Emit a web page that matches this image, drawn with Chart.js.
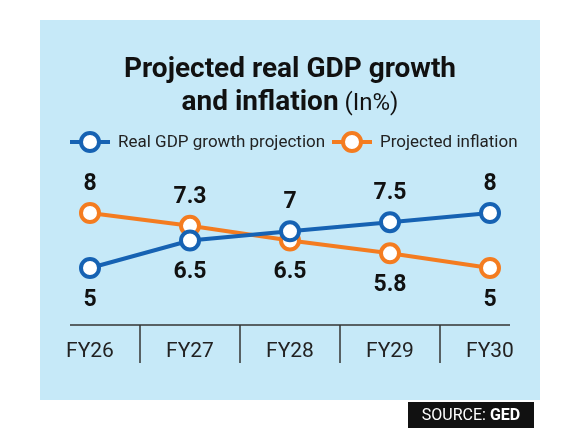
<!DOCTYPE html>
<html>
<head>
<meta charset="utf-8">
<script src="https://cdn.jsdelivr.net/npm/chart.js@4"></script>
<style>
  html, body { margin: 0; padding: 0; background: #fff; }
  #wrap { width: 580px; height: 435px; }
</style>
</head>
<body>
<div id="wrap"><canvas id="c" width="580" height="435"></canvas></div>
<script>
const years = ["FY26", "FY27", "FY28", "FY29", "FY30"];
const gdpGrowth = [5, 6.5, 7, 7.5, 8];
const inflation = [8, 7.3, 6.5, 5.8, 5];

const BLUE = "#1662b3";
const ORANGE = "#f47c20";
const FONT = "Roboto, 'DejaVu Sans', sans-serif";

function fmt(v) { return String(v); }

const decor = {
    id: "decor",
    beforeDraw(chart) {
        const ctx = chart.ctx;
        ctx.save();
        ctx.fillStyle = "#c6e9f8";
        ctx.fillRect(40, 20, 500, 380);

        // title
        ctx.fillStyle = "#111";
        ctx.textAlign = "center";
        ctx.textBaseline = "middle";
        ctx.font = `bold 28px ${FONT}`;
        ctx.fillText("Projected real GDP growth", 290, 70);
        const a = "and inflation", b = " (In%)";
        const wa = ctx.measureText(a).width;
        ctx.font = `24px ${FONT}`;
        const wb = ctx.measureText(b).width;
        const x0 = 290 - (wa + wb) / 2;
        ctx.textAlign = "left";
        ctx.font = `bold 28px ${FONT}`;
        ctx.fillText(a, x0, 103);
        ctx.font = `24px ${FONT}`;
        ctx.fillText(b, x0 + wa, 104);

        // legend
        const items = [[70, BLUE, "Real GDP growth projection"], [332, ORANGE, "Projected inflation"]];
        for (const [lx, col, txt] of items) {
            ctx.strokeStyle = col;
            ctx.lineWidth = 4;
            ctx.beginPath(); ctx.moveTo(lx, 142); ctx.lineTo(lx + 40, 142); ctx.stroke();
            ctx.beginPath(); ctx.arc(lx + 20, 142, 9, 0, Math.PI * 2);
            ctx.fillStyle = "#fff"; ctx.fill(); ctx.stroke();
            ctx.fillStyle = "#222";
            ctx.font = `17px ${FONT}`;
            ctx.fillText(txt, lx + 48, 143);
        }

        // x axis
        const xs = chart.scales.x;
        const first = xs.getPixelForValue(0), last = xs.getPixelForValue(years.length - 1);
        ctx.strokeStyle = "#333";
        ctx.lineWidth = 1.5;
        ctx.beginPath(); ctx.moveTo(first - 20, 325); ctx.lineTo(last + 20, 325); ctx.stroke();
        for (let i = 0; i < years.length - 1; i++) {
            const sx = (xs.getPixelForValue(i) + xs.getPixelForValue(i + 1)) / 2;
            ctx.beginPath(); ctx.moveTo(sx, 325); ctx.lineTo(sx, 363); ctx.stroke();
        }
        ctx.fillStyle = "#222";
        ctx.textAlign = "center";
        ctx.font = `21px ${FONT}`;
        years.forEach((y, i) => ctx.fillText(y, xs.getPixelForValue(i), 352));

        // source
        ctx.fillStyle = "#111";
        ctx.fillRect(408, 402, 126, 26);
        ctx.fillStyle = "#fff";
        ctx.textAlign = "left";
        ctx.font = `16px ${FONT}`;
        const s1 = "SOURCE: ";
        const w1 = ctx.measureText(s1).width;
        ctx.font = `bold 16px ${FONT}`;
        const w2 = ctx.measureText("GED").width;
        const sx0 = 471 - (w1 + w2) / 2;
        ctx.font = `16px ${FONT}`;
        ctx.fillText(s1, sx0, 416);
        ctx.font = `bold 16px ${FONT}`;
        ctx.fillText("GED", sx0 + w1, 416);
        ctx.restore();
    },
    afterDatasetsDraw(chart) {
        const ctx = chart.ctx;
        ctx.save();
        ctx.fillStyle = "#111";
        ctx.textAlign = "center";
        ctx.textBaseline = "middle";
        ctx.font = `bold 23px ${FONT}`;
        const sets = [gdpGrowth, inflation];
        sets.forEach((vals, di) => {
            const other = sets[1 - di];
            const meta = chart.getDatasetMeta(di);
            vals.forEach((v, i) => {
                const p = meta.data[i];
                const above = v > other[i];
                ctx.fillText(fmt(v), p.x, above ? p.y - 29 : p.y + 32);
            });
        });
        ctx.restore();
    }
};

new Chart(document.getElementById("c"), {
    type: "line",
    data: {
        labels: years,
        datasets: [
            { label: "Projected inflation", data: inflation, borderColor: ORANGE, order: 2 },
            { label: "Real GDP growth projection", data: gdpGrowth, borderColor: BLUE, order: 1 },
        ].map(d => ({ ...d, borderWidth: 4, pointRadius: 9, pointBorderWidth: 4,
            pointBackgroundColor: "#fff", pointBorderColor: d.borderColor })).reverse()
    },
    options: {
        responsive: false,
        animation: false,
        layout: { padding: { left: 40, right: 40, top: 158, bottom: 112 } },
        scales: {
            x: { display: false, offset: true },
            y: { display: false, min: 2, max: 11 }
        },
        plugins: { legend: { display: false }, tooltip: { enabled: false }, title: { display: false } }
    },
    plugins: [decor]
});
</script>
</body>
</html>
